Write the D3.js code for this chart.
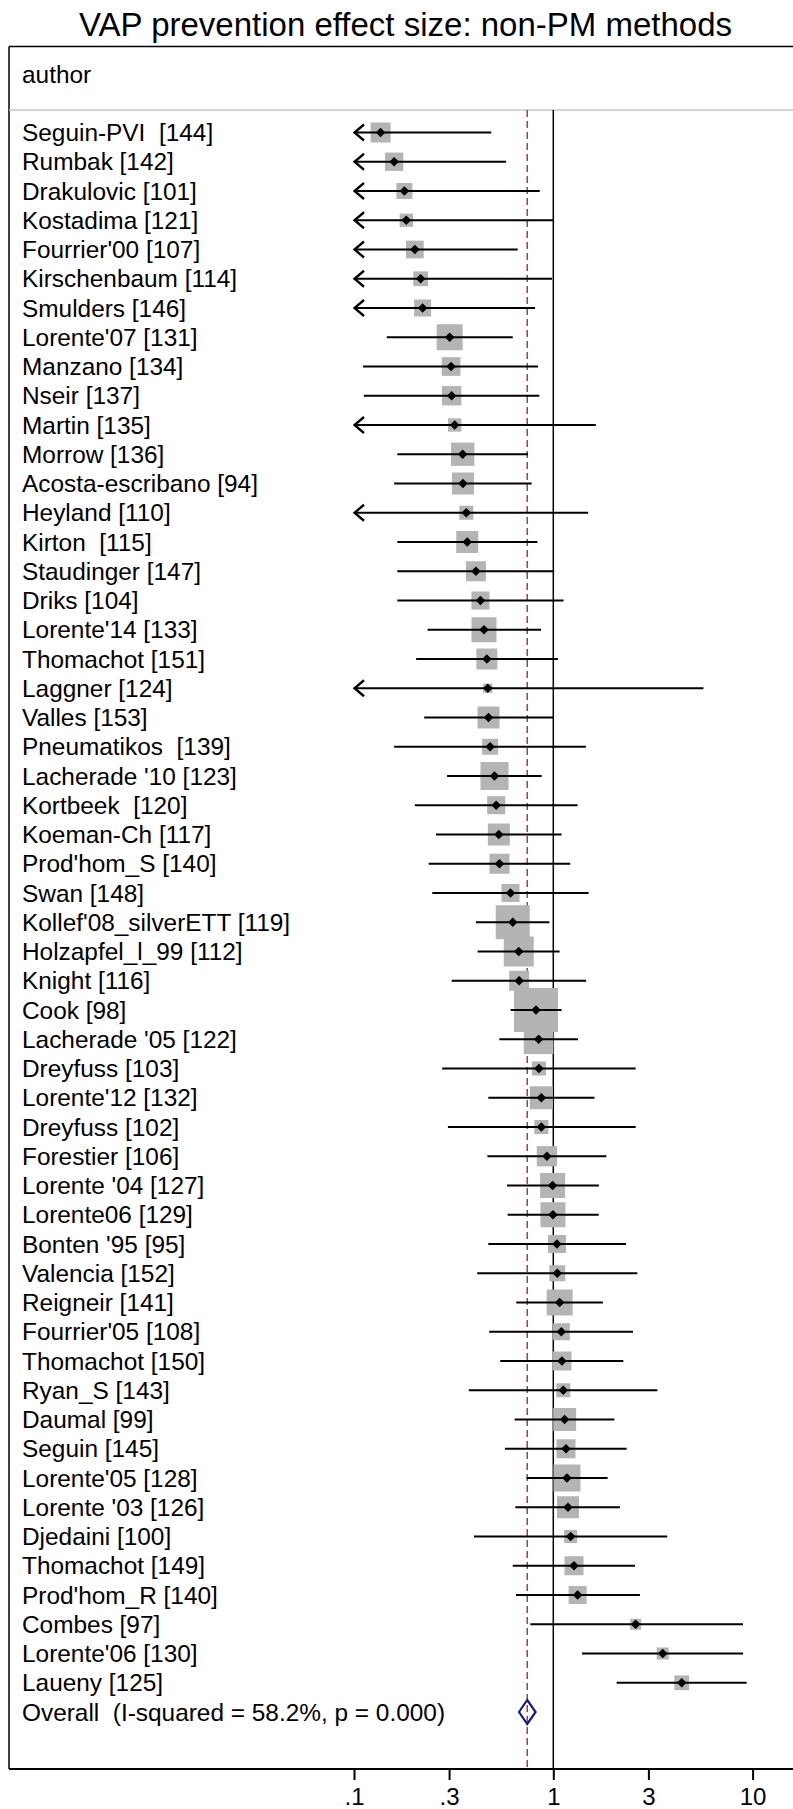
<!DOCTYPE html>
<html>
<head>
<meta charset="utf-8">
<script src="https://cdn.jsdelivr.net/npm/d3@7"></script>
<style>
  body { margin: 0; background: #fff; }
  text { font-family: "Liberation Sans", Arial, Helvetica, sans-serif; fill: #000; white-space: pre; }
</style>
</head>
<body>
<script>
// study labels, top to bottom
var authors = ["Seguin-PVI  [144]", "Rumbak [142]", "Drakulovic [101]", "Kostadima [121]", "Fourrier'00 [107]",
  "Kirschenbaum [114]", "Smulders [146]", "Lorente'07 [131]", "Manzano [134]", "Nseir [137]",
  "Martin [135]", "Morrow [136]", "Acosta-escribano [94]", "Heyland [110]", "Kirton  [115]",
  "Staudinger [147]", "Driks [104]", "Lorente'14 [133]", "Thomachot [151]", "Laggner [124]",
  "Valles [153]", "Pneumatikos  [139]", "Lacherade '10 [123]", "Kortbeek  [120]", "Koeman-Ch [117]",
  "Prod'hom_S [140]", "Swan [148]", "Kollef'08_silverETT [119]", "Holzapfel_l_99 [112]", "Knight [116]",
  "Cook [98]", "Lacherade '05 [122]", "Dreyfuss [103]", "Lorente'12 [132]", "Dreyfuss [102]",
  "Forestier [106]", "Lorente '04 [127]", "Lorente06 [129]", "Bonten '95 [95]", "Valencia [152]",
  "Reigneir [141]", "Fourrier'05 [108]", "Thomachot [150]", "Ryan_S [143]", "Daumal [99]",
  "Seguin [145]", "Lorente'05 [128]", "Lorente '03 [126]", "Djedaini [100]", "Thomachot [149]",
  "Prod'hom_R [140]", "Combes [97]", "Lorente'06 [130]", "Laueny [125]"];

// effect size (risk ratio) and 95% CI
var es = [0.136, 0.159, 0.179, 0.183, 0.202, 0.216, 0.221, 0.302, 0.307, 0.309,
  0.320, 0.351, 0.352, 0.366, 0.370, 0.409, 0.431, 0.449, 0.464, 0.469,
  0.473, 0.482, 0.507, 0.517, 0.533, 0.537, 0.610, 0.626, 0.671, 0.674,
  0.819, 0.844, 0.847, 0.871, 0.871, 0.929, 0.992, 0.996, 1.043, 1.047,
  1.076, 1.097, 1.105, 1.122, 1.140, 1.158, 1.171, 1.185, 1.222, 1.270,
  1.325, 2.59, 3.54, 4.41];
var lo = [0.038, 0.044, 0.038, 0.034, 0.062, 0.047, 0.060, 0.146, 0.111, 0.112,
  0.063, 0.165, 0.159, 0.090, 0.165, 0.165, 0.165, 0.234, 0.205, 0.039,
  0.225, 0.159, 0.293, 0.202, 0.258, 0.237, 0.247, 0.409, 0.417, 0.309,
  0.611, 0.536, 0.277, 0.472, 0.296, 0.467, 0.586, 0.590, 0.472, 0.415,
  0.652, 0.477, 0.542, 0.377, 0.640, 0.572, 0.735, 0.645, 0.400, 0.626,
  0.650, 0.767, 1.392, 2.079];
var hi = [0.488, 0.580, 0.855, 1.00, 0.663, 0.985, 0.810, 0.626, 0.838, 0.851,
  1.634, 0.747, 0.779, 1.496, 0.832, 1.01, 1.126, 0.868, 1.055, 5.67,
  1.00, 1.457, 0.874, 1.323, 1.10, 1.216, 1.502, 0.955, 1.076, 1.462,
  1.10, 1.33, 2.59, 1.61, 2.59, 1.845, 1.695, 1.689, 2.316, 2.64,
  1.775, 2.51, 2.245, 3.326, 2.024, 2.333, 1.873, 2.16, 3.73, 2.57,
  2.72, 8.95, 8.95, 9.33];
// study weights (%)
var weight = [1.70, 1.42, 1.08, 0.75, 1.33, 0.92, 1.22, 2.86, 1.48, 1.58,
  0.75, 2.30, 2.05, 0.83, 2.05, 1.70, 1.37, 2.65, 1.87, 0.36,
  2.05, 1.08, 3.32, 1.37, 2.05, 1.70, 1.37, 4.90, 3.81, 1.70,
  8.20, 3.74, 0.83, 2.24, 0.83, 1.75, 2.65, 2.65, 1.37, 1.08,
  2.86, 1.22, 1.53, 0.83, 2.24, 1.53, 3.09, 2.05, 0.72, 1.53,
  1.37, 0.51, 0.61, 0.92];

var overall = {label: "Overall  (I-squared = 58.2%, p = 0.000)", es: 0.74, lo: 0.673, hi: 0.815};
var tickVals = [0.1, 0.3, 1, 3, 10];
var tickLabels = [".1", ".3", "1", "3", "10"];

var W = 793, H = 1809;
var svg = d3.select("body").append("svg").attr("width", W).attr("height", H);

var boxLeft = 9, boxTop = 46.5, headLine = 110, axisY = 1769;

var x = d3.scaleLog().domain([0.1, 10]).range([354, 752.6]);
var y = d3.scaleLinear().domain([0, authors.length]).range([132.5, 132.5 + authors.length * 29.25]);
var side = d3.scaleSqrt().domain([0, d3.max(weight)]).range([0, 44]);

// title
svg.append("text").attr("x", 405.5).attr("y", 36).attr("text-anchor", "middle")
  .style("font-size", "33px").text("VAP prevention effect size: non-PM methods");

// frame
svg.append("line").attr("x1", boxLeft).attr("x2", W).attr("y1", boxTop).attr("y2", boxTop)
  .attr("stroke", "#000").attr("stroke-width", 1.5);
svg.append("line").attr("x1", boxLeft).attr("x2", boxLeft).attr("y1", boxTop).attr("y2", axisY)
  .attr("stroke", "#000").attr("stroke-width", 1.5);
svg.append("line").attr("x1", boxLeft).attr("x2", W).attr("y1", headLine).attr("y2", headLine)
  .attr("stroke", "#c8c8c8").attr("stroke-width", 1.5);

svg.append("text").attr("x", 22).attr("y", 83).style("font-size", "24.4px").text("author");

// reference lines
svg.append("line").attr("x1", x(overall.es)).attr("x2", x(overall.es))
  .attr("y1", headLine).attr("y2", axisY)
  .attr("stroke", "#a3303e").attr("stroke-width", 1.4).attr("stroke-dasharray", "7,4");
svg.append("line").attr("x1", x(1)).attr("x2", x(1)).attr("y1", headLine).attr("y2", axisY)
  .attr("stroke", "#000").attr("stroke-width", 1.5);

var rows = authors.map(function(a, i) {
  return {label: a, es: es[i], lo: lo[i], hi: hi[i], w: weight[i], i: i};
});

// labels
svg.selectAll("text.lab").data(rows).enter().append("text").attr("class", "lab")
  .attr("x", 22).attr("y", function(d) { return y(d.i) + 8.5; })
  .style("font-size", "24.4px").text(function(d) { return d.label; });

// weight boxes
svg.selectAll("rect.wbox").data(rows).enter().append("rect").attr("class", "wbox")
  .attr("x", function(d) { return x(d.es) - side(d.w) / 2; })
  .attr("y", function(d) { return y(d.i) - side(d.w) / 2; })
  .attr("width", function(d) { return side(d.w); })
  .attr("height", function(d) { return side(d.w); })
  .attr("fill", "#b4b4b4");

// CI lines (clipped at the axis range)
var xmin = x.domain()[0], xmax = x.domain()[1];
svg.selectAll("line.ci").data(rows).enter().append("line").attr("class", "ci")
  .attr("x1", function(d) { return x(Math.max(d.lo, xmin)); })
  .attr("x2", function(d) { return x(Math.min(d.hi, xmax)); })
  .attr("y1", function(d) { return y(d.i); }).attr("y2", function(d) { return y(d.i); })
  .attr("stroke", "#000").attr("stroke-width", 2.2);

// arrows where lower CI is off the scale
svg.selectAll("path.arrow").data(rows.filter(function(d) { return d.lo < xmin; })).enter()
  .append("path").attr("class", "arrow")
  .attr("d", function(d) {
    var x0 = x(xmin), yy = y(d.i);
    return "M" + (x0 + 10) + "," + (yy - 8) + "L" + (x0 + 0.5) + "," + yy + "L" + (x0 + 10) + "," + (yy + 8);
  })
  .attr("fill", "none").attr("stroke", "#000").attr("stroke-width", 2.3);

// point estimates
svg.selectAll("path.pt").data(rows).enter().append("path").attr("class", "pt")
  .attr("d", function(d) {
    var cx = x(d.es), cy = y(d.i), r = 4.8;
    return "M" + (cx - r) + "," + cy + "L" + cx + "," + (cy - r) + "L" + (cx + r) + "," + cy + "L" + cx + "," + (cy + r) + "Z";
  })
  .attr("fill", "#000");

// overall
var oy = y(authors.length);
svg.append("text").attr("x", 22).attr("y", oy + 8.5).style("font-size", "24.4px").text(overall.label);
svg.append("path")
  .attr("d", "M" + x(overall.lo) + "," + oy + "L" + x(overall.es) + "," + (oy - 12) +
    "L" + x(overall.hi) + "," + oy + "L" + x(overall.es) + "," + (oy + 12) + "Z")
  .attr("fill", "none").attr("stroke", "#1c1c78").attr("stroke-width", 2.2);

// x axis
svg.append("line").attr("x1", boxLeft).attr("x2", W).attr("y1", axisY).attr("y2", axisY)
  .attr("stroke", "#000").attr("stroke-width", 2);
var axis = d3.axisBottom(x).tickValues(tickVals)
  .tickFormat(function(d, i) { return tickLabels[i]; })
  .tickSize(11).tickPadding(8);
var ag = svg.append("g").attr("transform", "translate(0," + axisY + ")").call(axis);
ag.select(".domain").remove();
ag.selectAll(".tick line").attr("stroke", "#000").attr("stroke-width", 2);
ag.selectAll(".tick text").attr("fill", "#000")
  .style("font-family", "'Liberation Sans', Arial, sans-serif").style("font-size", "24px");
</script>
</body>
</html>
